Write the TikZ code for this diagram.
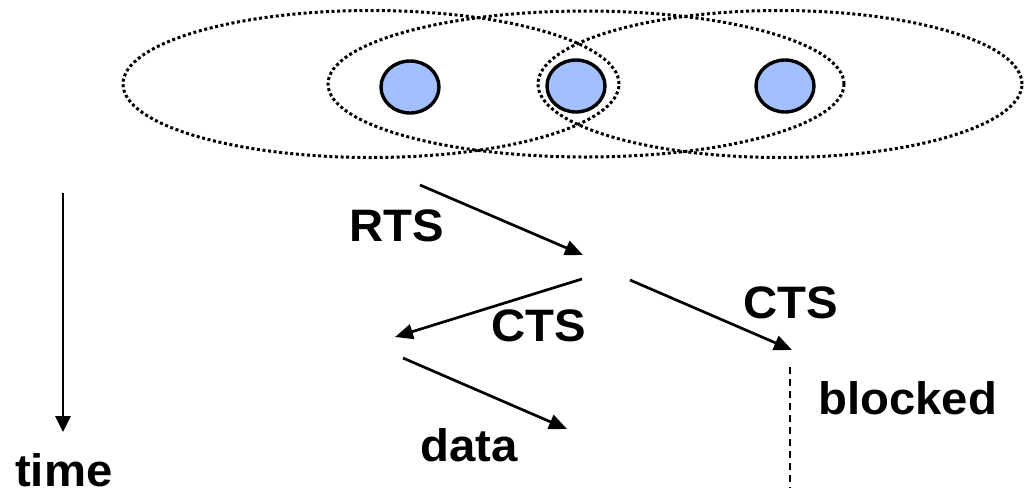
\documentclass[tikz,border=0pt]{standalone}
\usepackage{fontspec}
\setmainfont{Liberation Sans}
\usetikzlibrary{arrows.meta,shapes.geometric}
\definecolor{nodeblue}{RGB}{162,192,255}
\tikzset{
  rangeline/.style={line width=3pt, dash pattern=on 3pt off 2.6pt},
  station/.style={ellipse, draw, line width=3.4pt, fill=nodeblue, minimum width=58pt, minimum height=52pt, inner sep=0pt},
  msg/.style={line width=2.7pt, -{Triangle[length=18pt,width=15pt]}},
  lbl/.style={inner sep=0pt, anchor=base west, xscale=1.04, font=\fontsize{45.5}{47}\selectfont\bfseries},
}
\begin{document}
\begin{tikzpicture}[x=1pt, y=-1pt]
\useasboundingbox (0,0) rectangle (1026,496);
% transmission ranges
\draw[rangeline] (371,84) ellipse [x radius=248pt, y radius=73.5pt];
\draw[rangeline] (586,84) ellipse [x radius=258pt, y radius=73pt];
\draw[rangeline] (780,84) ellipse [x radius=242pt, y radius=73.5pt];
% stations
\node[station] (n1) at (410,87) {};
\node[station] (n2) at (576,86) {};
\node[station] (n3) at (785,86) {};
% message end points
\coordinate (rtsS) at (420,185);
\coordinate (rtsE) at (583,255);
\coordinate (ctsS) at (582,279);
\coordinate (ctsE) at (395,337);
\coordinate (ctsRS) at (630,280);
\coordinate (ctsRE) at (792,350);
\coordinate (dataS) at (403,358);
\coordinate (dataE) at (567,429);
\coordinate (blkS) at (790,367);
\coordinate (blkE) at (790,488);
\coordinate (tS) at (63,193);
\coordinate (tE) at (63,432);
% messages
\draw[msg] (rtsS) -- (rtsE);
\draw[msg] (ctsS) -- (ctsE);
\draw[msg] (ctsRS) -- (ctsRE);
\draw[msg] (dataS) -- (dataE);
\draw[line width=2.7pt, dash pattern=on 7pt off 5pt] (blkS) -- (blkE);
\draw[msg, -{Triangle[length=16pt,width=15pt]}] (tS) -- (tE);
% labels
\node[lbl] (lrts) at (349,241) {RTS};
\node[lbl] (lcts) at (491,341) {CTS};
\node[lbl] (lctsr) at (743,318) {CTS};
\node[lbl] (lblk) at (818,414) {blocked};
\node[lbl] (ldata) at (420,461) {data};
\node[lbl] (ltime) at (15,486) {time};
\end{tikzpicture}
\end{document}
